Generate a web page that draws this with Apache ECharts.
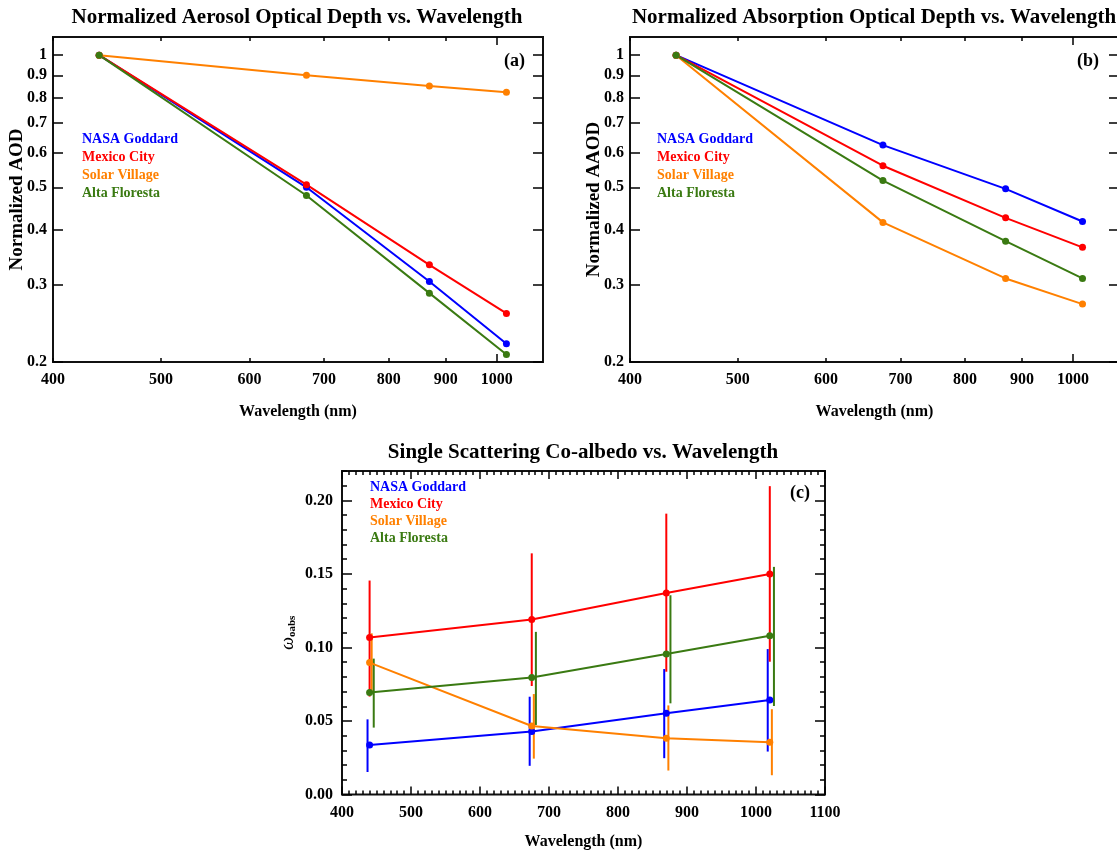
<!DOCTYPE html>
<html><head><meta charset="utf-8">
<script src="https://cdn.jsdelivr.net/npm/echarts@6/dist/echarts.min.js"></script>
<style>html,body{margin:0;padding:0;background:#fff}#c{width:1117px;height:851px}</style>
</head><body><div id="c"></div>
<script>
// ---------- data ----------
const siteNames = ['NASA Goddard', 'Mexico City', 'Solar Village', 'Alta Floresta'];
const wavelengths = [440, 675, 870, 1020];

const aodNasa   = [1.0, 0.500, 0.305, 0.220];
const aodMexico = [1.0, 0.507, 0.333, 0.258];
const aodSolar  = [1.0, 0.900, 0.851, 0.823];
const aodAlta   = [1.0, 0.479, 0.287, 0.208];

const aaodNasa   = [1.0, 0.624, 0.496, 0.418];
const aaodMexico = [1.0, 0.560, 0.426, 0.365];
const aaodSolar  = [1.0, 0.416, 0.310, 0.271];
const aaodAlta   = [1.0, 0.518, 0.377, 0.310];

const coalbNasa   = [0.0337, 0.0428, 0.0552, 0.0643];
const coalbMexico = [0.1067, 0.1190, 0.1370, 0.1500];
const coalbSolar  = [0.0897, 0.0466, 0.0382, 0.0355];
const coalbAlta   = [0.0693, 0.0796, 0.0955, 0.1080];

const coalbNasaLow    = [0.0153, 0.0195, 0.0247, 0.0292];
const coalbNasaHigh   = [0.0511, 0.0665, 0.0853, 0.0989];
const coalbMexicoLow  = [0.0666, 0.0738, 0.0835, 0.0903];
const coalbMexicoHigh = [0.1455, 0.1640, 0.1910, 0.2097];
const coalbSolarLow   = [0.0700, 0.0244, 0.0163, 0.0131];
const coalbSolarHigh  = [0.1096, 0.0683, 0.0606, 0.0580];
const coalbAltaLow    = [0.0455, 0.0473, 0.0620, 0.0602];
const coalbAltaHigh   = [0.0924, 0.1106, 0.1355, 0.1548];

const logXTicks = [400, 500, 600, 700, 800, 900, 1000];
const logXTickLabels = ['400', '500', '600', '700', '800', '900', '1000'];
const logXMajorTicks = [1000];
const logYTicks = [0.2, 0.3, 0.4, 0.5, 0.6, 0.7, 0.8, 0.9, 1];
const logYTickLabels = ['0.2', '0.3', '0.4', '0.5', '0.6', '0.7', '0.8', '0.9', '1'];
const coalbYTicks = [0, 0.05, 0.10, 0.15, 0.20];
const coalbYTickLabels = ['0.00', '0.05', '0.10', '0.15', '0.20'];

// ---------- styling ----------
const colors = ['#0000FF', '#FF0000', '#FF8000', '#3A7A12'];
const FONT = "'Liberation Serif', 'Times New Roman', serif";
const errOffsetsNm = [-3, 0, 3, 6];
const LX = [400, 1100], LY = [0.2, 1.1], CX = [400, 1100], CY = [0, 0.22];
const tickStyle = { color: '#000', width: 1.5 };
const noLine = { show: false, onZero: false };
const lbl = { fontFamily: FONT, fontWeight: 'bold', fontSize: 16, color: '#000' };

function findLabel(vals, labels, v, fn) {
  const i = vals.findIndex(t => Math.abs(fn(t) - v) < 1e-6);
  return i >= 0 ? labels[i] : '';
}

const xAxes = [], yAxes = [];
function logPanel(g, yName) {
  const xl = Math.log10;
  xAxes.push({ type: 'log', gridIndex: g, min: LX[0], max: LX[1], show: false, axisLine: noLine });
  ['bottom', 'top'].forEach(pos => xAxes.push({
    type: 'value', gridIndex: g, position: pos, min: xl(LX[0]), max: xl(LX[1]),
    splitLine: { show: false }, axisLine: noLine,
    axisTick: { inside: true, length: 4, lineStyle: tickStyle, customValues: logXTicks.map(xl) },
    axisLabel: pos === 'bottom' ? Object.assign({ show: true, margin: 10, customValues: logXTicks.map(xl),
      formatter: v => findLabel(logXTicks, logXTickLabels, v, xl) }, lbl) : { show: false },
    name: pos === 'bottom' ? 'Wavelength (nm)' : '', nameLocation: 'middle', nameGap: 42,
    nameTextStyle: Object.assign({}, lbl, { fontSize: 16 })
  }));
  ['bottom', 'top'].forEach(pos => xAxes.push({
    type: 'value', gridIndex: g, position: pos, min: xl(LX[0]), max: xl(LX[1]),
    splitLine: { show: false }, axisLine: noLine,
    axisTick: { inside: true, length: 8, lineStyle: tickStyle, customValues: logXMajorTicks.map(xl) },
    axisLabel: { show: false }
  }));
  yAxes.push({ type: 'log', gridIndex: g, min: LY[0], max: LY[1], show: false, axisLine: noLine });
  ['left', 'right'].forEach(pos => yAxes.push({
    type: 'value', gridIndex: g, position: pos, min: xl(LY[0]), max: xl(LY[1]),
    splitLine: { show: false }, axisLine: noLine,
    axisTick: { inside: true, length: 10, lineStyle: tickStyle, customValues: logYTicks.map(xl) },
    axisLabel: pos === 'left' ? Object.assign({ show: true, margin: 6, customValues: logYTicks.map(xl),
      formatter: v => findLabel(logYTicks, logYTickLabels, v, xl) }, lbl) : { show: false },
    name: pos === 'left' ? yName : '', nameLocation: 'middle', nameGap: 26, nameMoveOverlap: false,
    nameTextStyle: Object.assign({}, lbl, { fontSize: 19 })
  }));
}
logPanel(0, 'Normalized AOD');   // x 0-4, y 0-2
logPanel(1, 'Normalized AAOD');  // x 5-9, y 3-5

// panel (c) axes: x 10-11, y 6-9
['bottom', 'top'].forEach(pos => xAxes.push({
  type: 'value', gridIndex: 2, position: pos, min: CX[0], max: CX[1], interval: 100,
  splitLine: { show: false }, axisLine: noLine,
  axisTick: { inside: true, length: 8, lineStyle: tickStyle },
  minorTick: { show: true, splitNumber: 10, length: 4, lineStyle: tickStyle },
  axisLabel: pos === 'bottom' ? Object.assign({ show: true, margin: 10, formatter: v => String(v) }, lbl) : { show: false },
  name: pos === 'bottom' ? 'Wavelength (nm)' : '', nameLocation: 'middle', nameGap: 39,
  nameTextStyle: Object.assign({}, lbl, { fontSize: 16 })
}));
['left', 'right'].forEach(pos => {
  yAxes.push({
    type: 'value', gridIndex: 2, position: pos, min: CY[0], max: CY[1],
    splitLine: { show: false }, axisLine: noLine,
    axisTick: { inside: true, length: 10, lineStyle: tickStyle, customValues: coalbYTicks },
    axisLabel: pos === 'left' ? Object.assign({ show: true, margin: 9, customValues: coalbYTicks,
      formatter: v => findLabel(coalbYTicks, coalbYTickLabels, v, t => t) }, lbl) : { show: false },
    name: pos === 'left' ? '{w|ω}{s|oabs}' : '', nameLocation: 'middle', nameGap: 44,
    nameTextStyle: { rich: {
      w: { fontFamily: FONT, fontStyle: 'italic', fontSize: 18, color: '#000' },
      s: { fontFamily: FONT, fontWeight: 'bold', fontSize: 11, color: '#000', padding: [8, 0, 0, 0] } } }
  });
  yAxes.push({
    type: 'value', gridIndex: 2, position: pos, min: CY[0], max: CY[1], interval: 0.01,
    splitLine: { show: false }, axisLine: noLine,
    axisTick: { inside: true, length: 5, lineStyle: tickStyle },
    axisLabel: { show: false }
  });
});

function pairs(ys) { return wavelengths.map((w, i) => [w, ys[i]]); }
const aodSets = [aodNasa, aodMexico, aodSolar, aodAlta];
const aaodSets = [aaodNasa, aaodMexico, aaodSolar, aaodAlta];
const coalbSets = [coalbNasa, coalbMexico, coalbSolar, coalbAlta];
const lowSets = [coalbNasaLow, coalbMexicoLow, coalbSolarLow, coalbAltaLow];
const highSets = [coalbNasaHigh, coalbMexicoHigh, coalbSolarHigh, coalbAltaHigh];

const series = [];
function lineSeries(name, data, xi, yi, color) {
  return { type: 'line', name, data, xAxisIndex: xi, yAxisIndex: yi, symbol: 'circle', symbolSize: 7,
    itemStyle: { color }, lineStyle: { color, width: 2 }, z: 3, silent: true, animation: false, clip: false };
}
siteNames.forEach((n, k) => series.push(lineSeries(n, pairs(aodSets[k]), 0, 0, colors[k])));
siteNames.forEach((n, k) => series.push(lineSeries(n, pairs(aaodSets[k]), 5, 3, colors[k])));
siteNames.forEach((n, k) => {
  series.push({
    type: 'custom', name: n, xAxisIndex: 10, yAxisIndex: 6, z: 2, silent: true, animation: false,
    data: wavelengths.map((w, i) => [w + errOffsetsNm[k], lowSets[k][i], highSets[k][i]]),
    encode: { x: 0, y: [1, 2] },
    renderItem: (params, api) => {
      const p1 = api.coord([api.value(0), api.value(1)]);
      const p2 = api.coord([api.value(0), api.value(2)]);
      return { type: 'line', shape: { x1: p1[0], y1: p1[1], x2: p2[0], y2: p2[1] },
        style: { stroke: colors[k], lineWidth: 2 } };
    }
  });
});
siteNames.forEach((n, k) => series.push(lineSeries(n, pairs(coalbSets[k]), 10, 6, colors[k])));

function legendAt(left, top, gap) {
  return { orient: 'vertical', left, top, itemWidth: 0, itemHeight: 0, itemGap: 0, selectedMode: false,
    icon: 'circle', padding: 0,
    data: siteNames.map((n, k) => ({ name: n, textStyle: { color: colors[k] } })),
    textStyle: { fontFamily: FONT, fontWeight: 'bold', fontSize: 14, lineHeight: gap, padding: 0 } };
}
const titleStyle = { fontFamily: FONT, fontWeight: 'bold', fontSize: 21, color: '#000' };
const panelLab = (x, y, t) => ({ type: 'text', left: x, top: y, silent: true,
  style: { text: t, font: "bold 18px 'Liberation Serif', serif", fill: '#000' } });

const gridBase = { show: true, borderColor: '#111', borderWidth: 2, backgroundColor: 'transparent', outerBoundsMode: 'none', containLabel: false };
const option = {
  animation: false,
  backgroundColor: '#fff',
  title: [
    { text: 'Normalized Aerosol Optical Depth vs. Wavelength', left: 297, top: 7, textAlign: 'center', textStyle: titleStyle, padding: 0 },
    { text: 'Normalized Absorption Optical Depth vs. Wavelength', left: 874, top: 7, textAlign: 'center', textStyle: titleStyle, padding: 0 },
    { text: 'Single Scattering Co-albedo vs. Wavelength', left: 583, top: 442, textAlign: 'center', textStyle: titleStyle, padding: 0 }
  ],
  grid: [
    Object.assign({ left: 53, top: 37, width: 490, height: 325 }, gridBase),
    Object.assign({ left: 630, top: 37, width: 489, height: 325 }, gridBase),
    Object.assign({ left: 342, top: 471, width: 483, height: 323.5 }, gridBase)
  ],
  legend: [legendAt(77, 131, 17.7), legendAt(652, 131, 17.7), legendAt(365, 478.5, 17)],
  xAxis: xAxes,
  yAxis: yAxes,
  series,
  graphic: [panelLab(504, 52, '(a)'), panelLab(1077, 52, '(b)'), panelLab(790, 484, '(c)')]
};
const chart = echarts.init(document.getElementById('c'), null, { renderer: 'canvas' });
chart.setOption(option);
</script></body></html>
